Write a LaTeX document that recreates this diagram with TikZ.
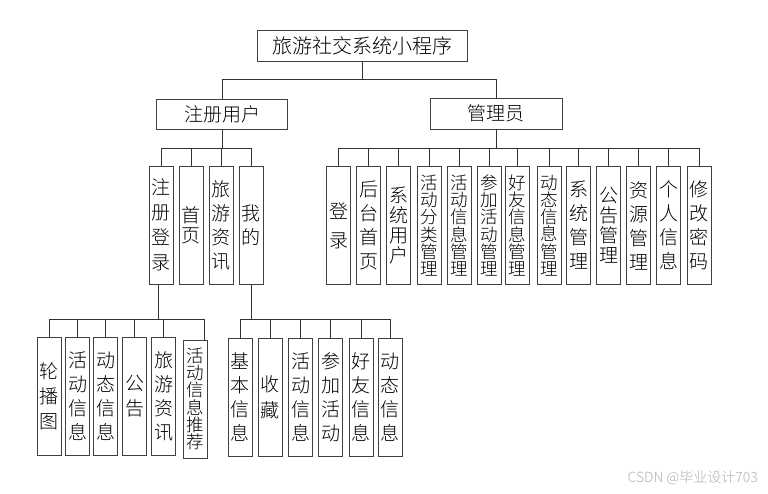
\documentclass[tikz,border=0pt]{standalone}
\usepackage{fontspec}
\setmainfont{Noto Sans CJK SC}[UprightFont={* Light}]
\newcommand\myvf[1]{\fontsize{19}{#1}\selectfont}
\begin{document}
\begin{tikzpicture}[x=1pt,y=-1pt,
  box/.style={draw=black!75, line width=1pt, inner sep=0pt, align=center, text=black},
  hbox/.style={box, font=\fontsize{19}{22}\selectfont},
  vbox/.style={box, minimum width=24pt, minimum height=118pt, font=\myvf{24}},
  vsix/.style={vbox, font=\fontsize{17.5}{17.3}\selectfont},
  conn/.style={draw=black!80, line width=1pt}]
\useasboundingbox (0,0) rectangle (768,493);
\fill[white] (0,0) rectangle (768,493);
% bus levels
\coordinate (b0) at (0,79);
\coordinate (b1) at (0,148);
\coordinate (b2) at (0,319);
% top
\node[hbox, minimum width=210pt, minimum height=31pt, font=\fontsize{20}{24}\selectfont] (root) at (362.5,45.5) {旅游社交系统小程序};
\node[hbox, minimum width=131pt, minimum height=30pt] (user) at (222,114) {注册用户};
\node[hbox, minimum width=132pt, minimum height=31pt] (admin) at (496,113.5) {管理员};
% user level 2
\node[vbox, font=\myvf{25}] (u1) at (161,225) {注\\册\\登\\录};
\node[vbox, font=\myvf{20}] (u2) at (191,225) {首\\页};
\node[vbox] (u3) at (221,225) {旅\\游\\资\\讯};
\node[vbox] (u4) at (251,225) {我\\的};
% admin level 2
\node[vbox, font=\myvf{29}] (a1) at (338.5,225.5) {登\\录};
\node[vbox] (a2) at (368.5,225.5) {后\\台\\首\\页};
\node[vbox, font=\myvf{20}] (a3) at (398.5,225.5) {系\\统\\用\\户};
\node[vsix] (a4) at (429,225.5) {活\\动\\分\\类\\管\\理};
\node[vsix] (a5) at (459,225.5) {活\\动\\信\\息\\管\\理};
\node[vsix] (a6) at (489,225.5) {参\\加\\活\\动\\管\\理};
\node[vsix] (a7) at (517.5,225.5) {好\\友\\信\\息\\管\\理};
\node[vsix] (a8) at (549,225.5) {动\\态\\信\\息\\管\\理};
\node[vbox] (a9) at (578.5,225.5) {系\\统\\管\\理};
\node[vbox, font=\myvf{20}] (a10) at (608.5,225.5) {公\\告\\管\\理};
\node[vbox] (a11) at (638.5,225.5) {资\\源\\管\\理};
\node[vbox] (a12) at (668.5,225.5) {个\\人\\信\\息};
\node[vbox] (a13) at (699,225.5) {修\\改\\密\\码};
% level 3 under 注册登录
\node[vbox, font=\myvf{25}] (c1) at (49,396.5) {轮\\播\\图};
\node[vbox] (c2) at (77.5,396.5) {活\\动\\信\\息};
\node[vbox] (c3) at (105.5,396.5) {动\\态\\信\\息};
\node[vbox, font=\myvf{25}] (c4) at (134.5,396.5) {公\\告};
\node[vbox] (c5) at (163.5,396.5) {旅\\游\\资\\讯};
\node[vsix] (c6) at (195,399) {活\\动\\信\\息\\推\\荐};
% level 3 under 我的
\node[vbox] (d1) at (240,397) {基\\本\\信\\息};
\node[vbox, font=\myvf{26}] (d2) at (270,397) {收\\藏};
\node[vbox] (d3) at (300.5,397) {活\\动\\信\\息};
\node[vbox] (d4) at (330.5,397) {参\\加\\活\\动};
\node[vbox] (d5) at (361,397) {好\\友\\信\\息};
\node[vbox] (d6) at (390,397) {动\\态\\信\\息};
% connectors
\draw[conn] (root.south) -- (root.south |- b0) -| (user.north);
\draw[conn] (root.south |- b0) -| (admin.north);
\foreach \c in {u1,u2,u3,u4}
  \draw[conn] (user.south) -- (user.south |- b1) -| (\c.north);
\foreach \c in {a1,a2,a3,a4,a5,a6,a7,a8,a9,a10,a11,a12,a13}
  \draw[conn] (admin.south) -- (admin.south |- b1) -| (\c.north);
\foreach \c in {c1,c2,c3,c4,c5}
  \draw[conn] ([xshift=-3pt]u1.south) -- ([xshift=-3pt]u1.south |- b2) -| (\c.north);
\draw[conn] ([xshift=-3pt]u1.south |- b2) -| ([xshift=9pt]c6.north);
\foreach \c in {d1,d2,d3,d4,d5,d6}
  \draw[conn] (u4.south) -- (u4.south |- b2) -| (\c.north);
% watermark
\node[text=black!30, font=\fontsize{14}{16}\selectfont, anchor=east, inner sep=0pt] (wm) at (758,478) {CSDN @毕业设计703};
\end{tikzpicture}
\end{document}
